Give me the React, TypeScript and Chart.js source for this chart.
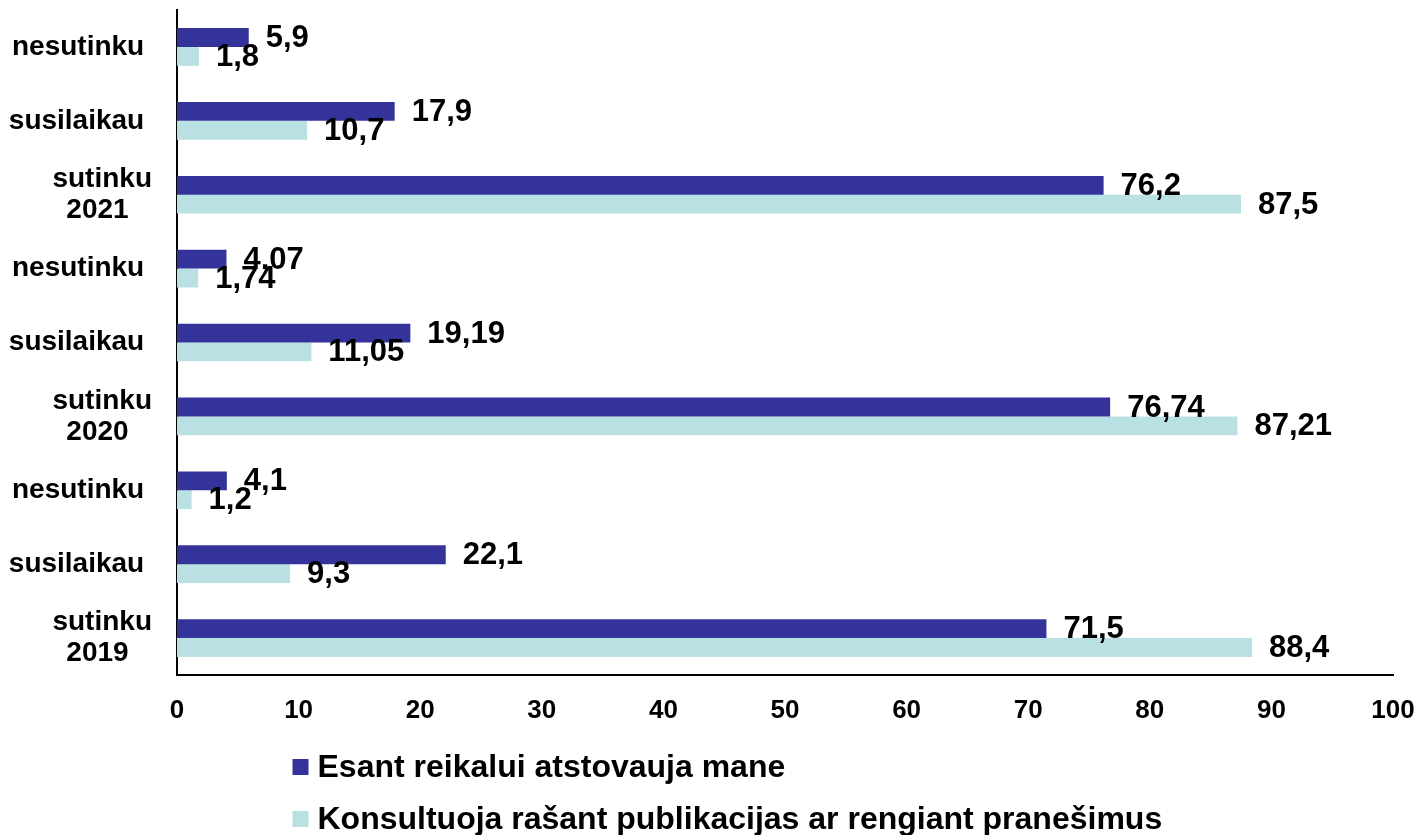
import React, { useEffect, useRef } from "react";
import { Chart, registerables } from "chart.js";

Chart.register(...registerables);

const categories: (string | string[])[] = [
  "nesutinku\u00A0",
  "susilaikau\u00A0",
  ["sutinku", "2021\u00A0\u00A0\u00A0"],
  "nesutinku\u00A0",
  "susilaikau\u00A0",
  ["sutinku", "2020\u00A0\u00A0\u00A0"],
  "nesutinku\u00A0",
  "susilaikau\u00A0",
  ["sutinku", "2019\u00A0\u00A0\u00A0"],
];

const representValues = [5.9, 17.9, 76.2, 4.07, 19.19, 76.74, 4.1, 22.1, 71.5];
const consultValues = [1.8, 10.7, 87.5, 1.74, 11.05, 87.21, 1.2, 9.3, 88.4];

const seriesNames = [
  "Esant reikalui atstovauja mane",
  "Konsultuoja rašant publikacijas ar rengiant pranešimus",
];
const seriesColors = ["#333399", "#B9E0E3"];

const xTicksMin = 0;
const xTicksMax = 100;
const xTicksStep = 10;

const FONT = 'Arial, "Liberation Sans", sans-serif';

const valueLabelPlugin = {
  id: "valueLabels",
  afterDatasetsDraw(chart: any) {
    const ctx = chart.ctx;
    ctx.save();
    ctx.font = `bold 31px ${FONT}`;
    ctx.fillStyle = "#000";
    ctx.textAlign = "left";
    ctx.textBaseline = "middle";
    chart.data.datasets.forEach((ds: any, di: number) => {
      const meta = chart.getDatasetMeta(di);
      meta.data.forEach((bar: any, i: number) => {
        const v = ds.data[i];
        const txt = String(v).replace(".", ",");
        ctx.fillText(txt, bar.x + 17, bar.y + 1);
      });
    });
    ctx.restore();
  },
};

const legendPlugin = {
  id: "stackedLegend",
  afterDraw(chart: any) {
    const ctx = chart.ctx;
    const area = chart.chartArea;
    ctx.save();
    ctx.font = `bold 32px ${FONT}`;
    ctx.textAlign = "left";
    ctx.textBaseline = "middle";
    const left = chart.width / 2 - 420;
    chart.data.datasets.forEach((ds: any, i: number) => {
      const cy = area.bottom + 92 + i * 52;
      ctx.fillStyle = ds.backgroundColor;
      ctx.fillRect(left, cy - 8, 16, 16);
      ctx.fillStyle = "#000";
      ctx.fillText(ds.label, left + 25, cy + 1);
    });
    ctx.restore();
  },
};

export default function App() {
  const ref = useRef<HTMLCanvasElement | null>(null);

  useEffect(() => {
    if (!ref.current) return;
    const chart = new Chart(ref.current, {
      type: "bar",
      data: {
        labels: categories,
        datasets: [
          {
            label: seriesNames[0],
            data: representValues,
            backgroundColor: seriesColors[0],
            categoryPercentage: 0.51,
            barPercentage: 1,
          },
          {
            label: seriesNames[1],
            data: consultValues,
            backgroundColor: seriesColors[1],
            categoryPercentage: 0.51,
            barPercentage: 1,
          },
        ],
      },
      options: {
        indexAxis: "y",
        animation: false,
        responsive: true,
        maintainAspectRatio: false,
        layout: { padding: { top: 10, right: 32, bottom: 110, left: 0 } },
        plugins: {
          legend: { display: false },
          tooltip: { enabled: false },
        },
        scales: {
          x: {
            min: xTicksMin,
            max: xTicksMax,
            grid: { display: false, drawTicks: false },
            border: { display: true, color: "#000", width: 2 },
            ticks: {
              stepSize: xTicksStep,
              color: "#000",
              padding: 20,
              maxRotation: 0,
              font: { family: FONT, size: 26, weight: "bold" },
            },
            afterFit(scale: any) {
              scale.height = 50;
              scale.paddingLeft = 0;
              scale.paddingRight = 0;
            },
          },
          y: {
            grid: { display: false, drawTicks: false },
            border: { display: true, color: "#000", width: 2 },
            ticks: {
              color: "#000",
              padding: 25,
              crossAlign: "near",
              font: { family: FONT, size: 28, weight: "bold", lineHeight: 1.1 },
            },
            afterFit(scale: any) {
              scale.width = 177;
              scale.paddingTop = 0;
              scale.paddingBottom = 0;
            },
          },
        },
      },
      plugins: [valueLabelPlugin, legendPlugin],
    });
    return () => chart.destroy();
  }, []);

  return (
    <div style={{ position: "absolute", left: 0, top: 0, width: 1425, height: 835, background: "#fff" }}>
      <canvas ref={ref} />
    </div>
  );
}
